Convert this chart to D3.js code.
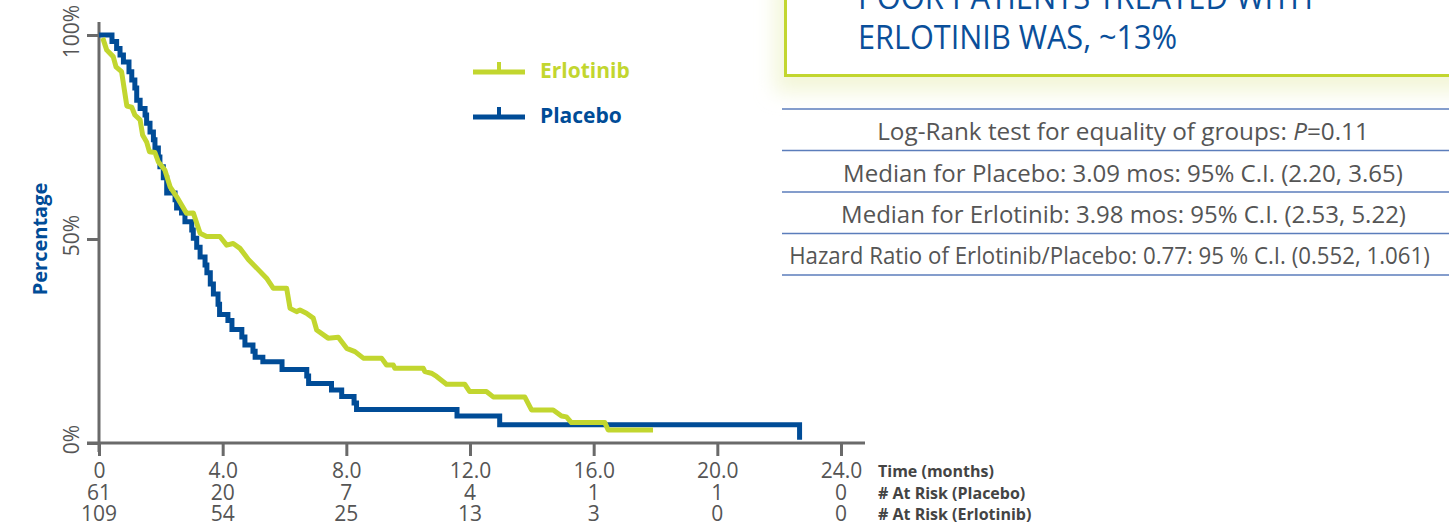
<!DOCTYPE html>
<html>
<head>
<meta charset="utf-8">
<script src="https://cdn.jsdelivr.net/npm/d3@7"></script>
<style>
  html, body { margin: 0; padding: 0; background: #fff; }
  svg { display: block; }
  text { font-family: "Open Sans", "Noto Sans", sans-serif; }
</style>
</head>
<body>
<svg id="chart" width="1449" height="524"></svg>
<script>
// Kaplan–Meier estimates: [time in months, survival %]
const placeboSteps = [
  [0, 100], [0.42, 98.4], [0.57, 96.7], [0.68, 95.1], [0.79, 93.4], [0.97, 91.0],
  [1.06, 89.0], [1.16, 87.0], [1.22, 84.0], [1.33, 82.0], [1.49, 80.4], [1.54, 78.4],
  [1.65, 76.2], [1.76, 74.3], [1.81, 72.3], [1.92, 70.1], [1.97, 67.7], [2.08, 65.0],
  [2.19, 61.3], [2.46, 59.6], [2.51, 57.6], [2.67, 56.4], [2.78, 54.2], [3.00, 52.2],
  [3.05, 50.2], [3.16, 48.0], [3.27, 45.6], [3.43, 43.6], [3.49, 41.7], [3.60, 39.0],
  [3.70, 36.5], [3.85, 34.0], [3.90, 31.5], [4.17, 30.0], [4.30, 27.8], [4.62, 26.0],
  [4.72, 24.0], [4.98, 22.5], [5.05, 21.0], [5.30, 19.9], [5.92, 18.0], [6.72, 16.4],
  [6.78, 14.6], [7.52, 13.0], [7.85, 11.4], [8.25, 9.8], [8.33, 8.2], [11.58, 6.6],
  [12.96, 4.5], [22.66, 0.8]
];
const erlotinibPoints = [
  [0.12, 99.3], [0.25, 96.3], [0.46, 94.7], [0.55, 92.2], [0.73, 91.0], [0.90, 82.6],
  [1.06, 82.3], [1.16, 80.4], [1.33, 79.2], [1.41, 75.5], [1.54, 73.8], [1.63, 71.4],
  [1.81, 71.2], [1.92, 68.9], [2.13, 66.9], [2.30, 62.8], [2.51, 60.4], [2.83, 56.3],
  [3.05, 56.4], [3.27, 51.4], [3.48, 50.6], [3.91, 50.6], [4.13, 48.5], [4.34, 48.9],
  [4.56, 47.7], [4.83, 45.0], [5.42, 40.4], [5.64, 37.9], [6.07, 37.9], [6.18, 33.0],
  [6.39, 32.2], [6.50, 32.6], [6.71, 31.8], [6.93, 30.6], [7.04, 27.7], [7.41, 25.7],
  [7.74, 25.9], [8.01, 23.2], [8.28, 22.4], [8.55, 20.8], [9.14, 20.8], [9.30, 19.1],
  [9.52, 19.1], [9.57, 18.3], [10.49, 18.3], [10.54, 17.5], [10.75, 17.1], [10.92, 16.3],
  [11.24, 14.4], [11.83, 14.4], [11.99, 12.6], [12.53, 12.6], [12.75, 11.3], [13.77, 11.3],
  [13.99, 8.1], [14.69, 8.1], [14.96, 6.6], [15.12, 6.4], [15.28, 5.0], [16.36, 5.0],
  [16.47, 3.2], [17.92, 3.2]
];

const timeTicks = [0, 4, 8, 12, 16, 20, 24];
const atRiskPlacebo = [61, 20, 7, 4, 1, 1, 0];
const atRiskErlotinib = [109, 54, 25, 13, 3, 0, 0];
const percentTicks = [0, 50, 100];
const rowLabels = ["Time (months)", "# At Risk (Placebo)", "# At Risk (Erlotinib)"];
const seriesNames = ["Erlotinib", "Placebo"];

const calloutLines = ["POOR PATIENTS TREATED WITH", "ERLOTINIB WAS, ~13%"];
const statsRows = [
  ["Log-Rank test for equality of groups: ", {italic: "P"}, "=0.11"],
  ["Median for Placebo: 3.09 mos: 95% C.I. (2.20, 3.65)"],
  ["Median for Erlotinib: 3.98 mos: 95% C.I. (2.53, 5.22)"],
  ["Hazard Ratio of Erlotinib/Placebo: 0.77: 95 % C.I. (0.552, 1.061)"]
];

const GREEN = "#c2d62f";
const BLUE = "#004c97";
const AXIS = "#6a6a6a";
const TEXT = "#555";

const svg = d3.select("#chart");
const x = d3.scaleLinear().domain([0, 24]).range([99, 841]);
const y = d3.scaleLinear().domain([0, 100]).range([443, 35]);

// squeeze a text element horizontally so it spans a given width
function fitWidth(sel, cx, baseline, width) {
  const w = sel.node().getComputedTextLength();
  sel.attr("text-anchor", "middle")
     .attr("transform", `translate(${cx},${baseline}) scale(${width / w},1)`);
}

// ---- callout box (top right) ----
const defs = svg.append("defs");
const glow = defs.append("filter").attr("id", "glow")
  .attr("x", "-20%").attr("y", "-40%").attr("width", "140%").attr("height", "180%");
glow.append("feGaussianBlur").attr("stdDeviation", 10);

svg.append("rect").attr("x", 775).attr("y", -20).attr("width", 700).attr("height", 112)
  .attr("fill", "#f3f6d8").attr("filter", "url(#glow)");
svg.append("rect").attr("x", 785.5).attr("y", -10).attr("width", 700).attr("height", 85.5)
  .attr("fill", "#fff").attr("stroke", GREEN).attr("stroke-width", 3);

const callTargets = [[858, 9, 455], [858, 49, 319]];
calloutLines.forEach((t, i) => {
  const [x0, base, w] = callTargets[i];
  const el = svg.append("text").attr("font-size", 32).attr("fill", "#0a4f9a").text(t);
  fitWidth(el, x0 + w / 2, base, w);
});

// ---- statistics table ----
const ruleYs = [109, 150.5, 192, 233.5, 275];
svg.append("g").selectAll("line").data(ruleYs).join("line")
  .attr("x1", 782).attr("x2", 1449).attr("y1", d => d).attr("y2", d => d)
  .attr("stroke", "#5b7dbb").attr("stroke-width", 1.5);

const statTargets = [[877, 1369], [843, 1403], [841, 1406], [789, 1430]];
const statBase = [140, 182, 223, 264];
statsRows.forEach((parts, i) => {
  const el = svg.append("text").attr("font-size", 23).attr("fill", TEXT);
  parts.forEach(p => {
    if (typeof p === "string") el.append("tspan").text(p);
    else el.append("tspan").attr("font-style", "italic").text(p.italic);
  });
  const [a, b] = statTargets[i];
  fitWidth(el, (a + b) / 2, statBase[i], b - a);
});

// ---- axes ----
svg.append("line").attr("x1", 87).attr("x2", 865).attr("y1", y(0)).attr("y2", y(0))
  .attr("stroke", AXIS).attr("stroke-width", 3);
svg.append("line").attr("x1", x(0)).attr("x2", x(0)).attr("y1", 22).attr("y2", 452)
  .attr("stroke", AXIS).attr("stroke-width", 3);

const xAxis = svg.append("g").attr("transform", `translate(0,${y(0)})`)
  .call(d3.axisBottom(x).tickValues(timeTicks).tickSize(13)
    .tickFormat(d => d === 0 ? "0" : d.toFixed(1)));
xAxis.select(".domain").remove();
xAxis.selectAll(".tick line").attr("stroke", AXIS).attr("stroke-width", 3);
xAxis.selectAll(".tick text").attr("fill", TEXT).attr("font-size", 21)
  .attr("font-family", "'Open Sans', sans-serif").attr("y", 0).attr("dy", 0)
  .attr("transform", "translate(0,35)");

const yAxis = svg.append("g").attr("transform", `translate(${x(0)},0)`)
  .call(d3.axisLeft(y).tickValues(percentTicks).tickSize(12).tickFormat(d => d + "%"));
yAxis.select(".domain").remove();
yAxis.selectAll(".tick line").attr("stroke", AXIS).attr("stroke-width", 3);
yAxis.selectAll(".tick text").attr("fill", TEXT).attr("font-size", 21)
  .attr("font-family", "'Open Sans', sans-serif")
  .attr("x", 0).attr("dy", 0).attr("text-anchor", "middle")
  .attr("transform", "translate(-20,-4) rotate(-90)");

svg.append("text").attr("transform", `translate(47,${y(50)}) rotate(-90)`)
  .attr("text-anchor", "middle").attr("font-size", 20).attr("font-weight", 700)
  .attr("fill", BLUE).text("Percentage");

// ---- at-risk rows ----
[atRiskPlacebo, atRiskErlotinib].forEach((row, r) => {
  svg.append("g").selectAll("text").data(row).join("text")
    .attr("x", (d, i) => x(timeTicks[i])).attr("y", 499.5 + r * 21.5)
    .attr("text-anchor", "middle").attr("font-size", 21).attr("fill", TEXT)
    .text(d => d);
});
svg.append("g").selectAll("text").data(rowLabels).join("text")
  .attr("x", 878).attr("y", (d, i) => 477 + i * 21.5)
  .attr("font-size", 16).attr("font-weight", 700).attr("fill", "#444")
  .text(d => d);

// ---- survival curves ----
svg.append("path").datum(placeboSteps)
  .attr("d", d3.line().x(d => x(d[0])).y(d => y(d[1])).curve(d3.curveStepAfter))
  .attr("fill", "none").attr("stroke", BLUE).attr("stroke-width", 5)
  .attr("stroke-linejoin", "miter");

svg.append("path").datum(erlotinibPoints)
  .attr("d", d3.line().x(d => x(d[0])).y(d => y(d[1])))
  .attr("fill", "none").attr("stroke", GREEN).attr("stroke-width", 5)
  .attr("stroke-linejoin", "round");

// ---- legend ----
const legend = svg.append("g");
const legendColors = [GREEN, BLUE];
seriesNames.forEach((name, i) => {
  const ly = 72 + i * 45;
  legend.append("line").attr("x1", 473).attr("x2", 525).attr("y1", ly).attr("y2", ly)
    .attr("stroke", legendColors[i]).attr("stroke-width", 5);
  legend.append("line").attr("x1", 499).attr("x2", 499).attr("y1", ly - 10).attr("y2", ly)
    .attr("stroke", legendColors[i]).attr("stroke-width", 4);
  legend.append("text").attr("x", 540).attr("y", ly + 6)
    .attr("font-size", 21).attr("font-weight", 700).attr("fill", legendColors[i])
    .text(name);
});
</script>
</body>
</html>
